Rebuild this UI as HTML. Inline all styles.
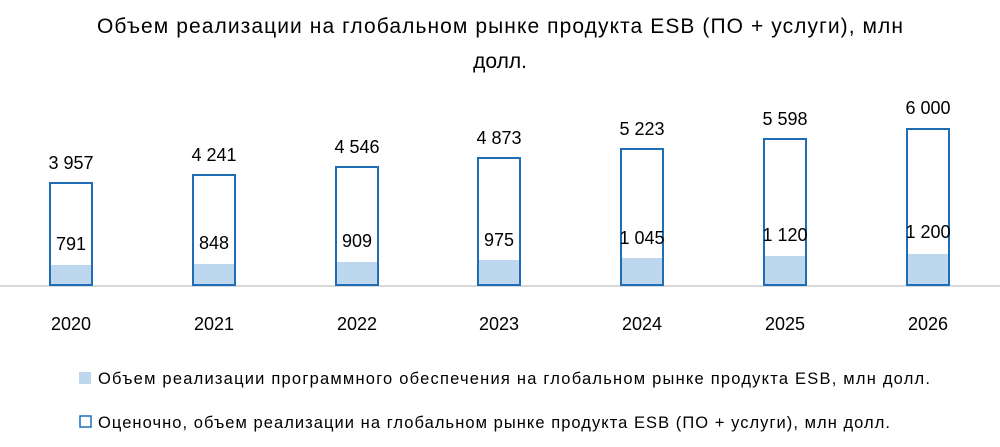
<!DOCTYPE html>
<html><head><meta charset="utf-8"><style>
body{margin:0;background:#fff;}
svg{display:block;font-family:"Liberation Sans",sans-serif;}
</style></head><body>
<svg width="1000" height="447" xmlns="http://www.w3.org/2000/svg">
<rect width="1000" height="447" fill="#fff"/>
<text x="97" y="33" font-size="21" fill="#000" textLength="806">Объем реализации на глобальном рынке продукта ESB (ПО + услуги), млн</text>
<text x="500" y="68" font-size="21" text-anchor="middle" fill="#000">долл.</text>
<line x1="0" y1="286" x2="1000" y2="286" stroke="#d9d9d9" stroke-width="2"/>
<g font-size="18" text-anchor="middle" fill="#000">
<rect x="50" y="265" width="42" height="20" fill="#bdd7ee"/><rect x="50" y="183" width="42" height="102" fill="none" stroke="#1f6db5" stroke-width="2"/>
<text x="71" y="169">3 957</text><text x="71" y="250">791</text><text x="71" y="330">2020</text>

<rect x="193" y="264" width="42" height="21" fill="#bdd7ee"/><rect x="193" y="175" width="42" height="110" fill="none" stroke="#1f6db5" stroke-width="2"/>
<text x="214" y="161">4 241</text><text x="214" y="249">848</text><text x="214" y="330">2021</text>

<rect x="336" y="262" width="42" height="23" fill="#bdd7ee"/><rect x="336" y="167" width="42" height="118" fill="none" stroke="#1f6db5" stroke-width="2"/>
<text x="357" y="153">4 546</text><text x="357" y="247">909</text><text x="357" y="330">2022</text>

<rect x="478" y="260" width="42" height="25" fill="#bdd7ee"/><rect x="478" y="158" width="42" height="127" fill="none" stroke="#1f6db5" stroke-width="2"/>
<text x="499" y="144">4 873</text><text x="499" y="246">975</text><text x="499" y="330">2023</text>

<rect x="621" y="258" width="42" height="27" fill="#bdd7ee"/><rect x="621" y="149" width="42" height="136" fill="none" stroke="#1f6db5" stroke-width="2"/>
<text x="642" y="135">5 223</text><text x="642" y="244">1 045</text><text x="642" y="330">2024</text>

<rect x="764" y="256" width="42" height="29" fill="#bdd7ee"/><rect x="764" y="139" width="42" height="146" fill="none" stroke="#1f6db5" stroke-width="2"/>
<text x="785" y="125">5 598</text><text x="785" y="241">1 120</text><text x="785" y="330">2025</text>

<rect x="907" y="254" width="42" height="31" fill="#bdd7ee"/><rect x="907" y="129" width="42" height="156" fill="none" stroke="#1f6db5" stroke-width="2"/>
<text x="928" y="114">6 000</text><text x="928" y="238">1 200</text><text x="928" y="330">2026</text>
</g>
<g font-size="16.5" fill="#000">
<rect x="79" y="372" width="12" height="12" fill="#bdd7ee"/>
<text x="98" y="384" textLength="832">Объем реализации программного обеспечения на глобальном рынке продукта ESB, млн долл.</text>
<rect x="80" y="416" width="11" height="11" fill="none" stroke="#1f6db5" stroke-width="1.5"/>
<text x="98" y="428" textLength="792">Оценочно, объем реализации на глобальном рынке продукта ESB (ПО + услуги), млн долл.</text>
</g>
</svg>
</body></html>
